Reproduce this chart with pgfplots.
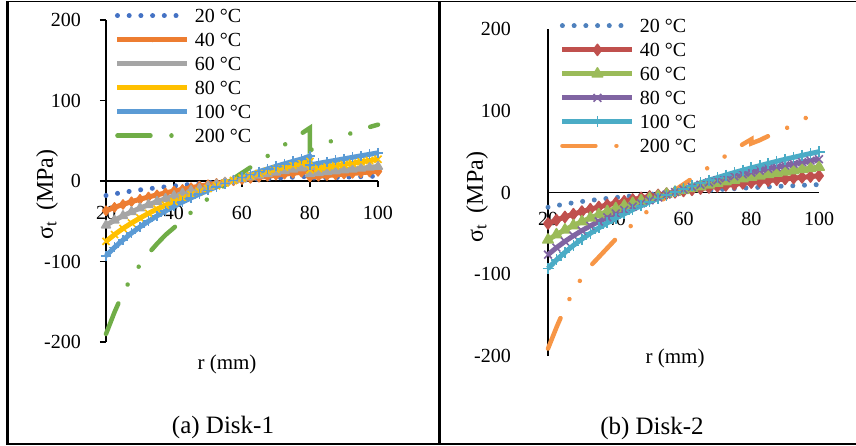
\documentclass[border=0pt]{standalone}
\usepackage{fontspec}
\setmainfont{Liberation Serif}
\usepackage{pgfplots}
\usepackage{pgfplotstable}
\pgfplotsset{compat=1.18}

% Office 2013 palette (Disk-1)
\definecolor{aBlue}{HTML}{4472C4}
\definecolor{aOrange}{HTML}{ED7D31}
\definecolor{aGray}{HTML}{A5A5A5}
\definecolor{aGold}{HTML}{FFC000}
\definecolor{aSky}{HTML}{5B9BD5}
\definecolor{aGreen}{HTML}{70AD47}
% Office 2007 palette (Disk-2)
\definecolor{bBlue}{HTML}{4F81BD}
\definecolor{bRed}{HTML}{C0504D}
\definecolor{bGreen}{HTML}{9BBB59}
\definecolor{bPurple}{HTML}{8064A2}
\definecolor{bAqua}{HTML}{4BACC6}
\definecolor{bOrange}{HTML}{F79646}

% r (mm) and sigma_t (MPa), Disk-1 (step at r = 80)
\pgfplotstableread{
r t20 t40 t60 t80 t100 t200
20 -18.0 -37.0 -55.0 -75.0 -93.0 -190
22.5 -16.0 -32.8 -48.8 -66.6 -82.5 -163
25 -14.2 -29.1 -43.3 -59.0 -73.2 -139
27.5 -12.5 -25.7 -38.3 -52.2 -64.7 -120
30 -11.0 -22.7 -33.7 -46.0 -57.0 -104
32.5 -9.7 -19.8 -29.5 -40.2 -49.9 -90
35 -8.4 -17.2 -25.6 -34.9 -43.3 -78
37.5 -7.2 -14.8 -22.0 -30.0 -37.2 -67
40 -6.1 -12.5 -18.6 -25.4 -31.5 -58
42.5 -5.1 -10.4 -15.4 -21.0 -26.1 -49
45 -4.1 -8.3 -12.4 -16.9 -21.0 -39
47.5 -3.1 -6.4 -9.6 -13.1 -16.2 -30
50 -2.3 -4.6 -6.9 -9.4 -11.6 -22
52.5 -1.4 -2.9 -4.3 -5.9 -7.3 -13
55 -0.6 -1.3 -1.9 -2.6 -3.2 -5
57.5 0.1 0.3 0.5 0.6 0.8 3
60 0.9 1.8 2.7 3.7 4.5 10
62.5 1.6 3.3 4.8 6.6 8.2 17
65 2.3 4.6 6.9 9.4 11.7 24
67.5 2.9 6.0 8.9 12.1 15.0 31
70 3.5 7.3 10.8 14.7 18.2 38
72.5 4.1 8.5 12.6 17.2 21.4 45
75 4.7 9.7 14.4 19.6 24.4 52
77.5 5.3 10.8 16.1 22.0 27.3 59
80 5.8 12.0 17.8 24.3 31.0 66
80 3.5 5.0 9.0 14.0 20.0 38
82.5 3.8 5.9 10.1 15.6 21.9 43
85 4.1 6.8 11.3 17.3 23.8 47
87.5 4.4 7.7 12.4 18.9 25.6 52
90 4.7 8.6 13.5 20.5 27.5 56
92.5 5.1 9.4 14.6 22.1 29.4 60
95 5.4 10.3 15.8 23.8 31.3 63
97.5 5.7 11.2 16.9 25.4 33.1 67
100 6.0 12.0 18.0 27.0 35.0 70
}\diskA

% Disk-2
\pgfplotstableread{
r t20 t40 t60 t80 t100 t200
20 -18.0 -38.0 -58.0 -76.0 -93.0 -191
22.5 -16.0 -33.7 -51.5 -67.5 -82.5 -165
25 -14.2 -29.9 -45.7 -59.8 -73.2 -141
27.5 -12.5 -26.5 -40.4 -52.9 -64.7 -121
30 -11.0 -23.3 -35.6 -46.6 -57.0 -104
32.5 -9.7 -20.4 -31.1 -40.8 -49.9 -90
35 -8.4 -17.7 -27.0 -35.4 -43.3 -79
37.5 -7.2 -15.2 -23.2 -30.4 -37.2 -68
40 -6.1 -12.9 -19.6 -25.7 -31.5 -57
42.5 -5.1 -10.7 -16.3 -21.3 -26.1 -48
45 -4.1 -8.6 -13.1 -17.2 -21.0 -39
47.5 -3.1 -6.6 -10.1 -13.2 -16.2 -29
50 -2.3 -4.8 -7.3 -9.5 -11.6 -21
52.5 -1.4 -3.0 -4.6 -6.0 -7.3 -13
55 -0.6 -1.3 -2.0 -2.6 -3.2 -5
57.5 0.1 0.3 0.5 0.6 0.8 3
60 0.9 1.9 2.8 3.7 4.5 10
62.5 1.6 3.3 5.1 6.7 8.2 17
65 2.3 4.8 7.3 9.5 11.7 24
67.5 2.9 6.1 9.4 12.3 15.0 31
70 3.5 7.5 11.4 14.9 18.2 38
72.5 4.1 8.7 13.3 17.5 21.4 45
75 4.7 10.0 15.2 19.9 24.4 52
77.5 5.3 11.2 17.0 22.3 27.3 59
80 5.8 12.3 18.8 24.6 30.1 65
80 5.8 12.3 18.8 24.6 30.1 60
82.5 6.4 13.4 20.5 26.8 32.8 64
85 6.9 14.5 22.1 29.0 35.5 69
87.5 7.4 15.6 23.7 31.1 38.1 73
90 7.9 16.6 25.3 33.2 40.6 78
92.5 8.3 17.6 26.8 35.1 43.0 83
95 8.8 18.5 28.3 37.1 45.4 89
97.5 9.2 19.5 29.7 39.0 47.7 94
100 9.7 20.4 31.1 40.8 49.9 99
}\diskB

\pgfplotsset{
  disk/.style={
    scale only axis, clip=false,
    xmin=20, xmax=100, ymin=-200, ymax=200,
    xtick={20,40,60,80,100}, ytick={-200,-100,0,100,200},
    axis x line*=middle, axis y line*=left,
    hide obscured x ticks=false, hide obscured y ticks=false,
    axis line style={line width=1.6bp, black},
    /pgf/number format/assume math mode=true,
    tick label style={font=\fontsize{20bp}{24bp}\selectfont, inner sep=0bp},
    xticklabel style={anchor=center, yshift=-26bp},
    yticklabel style={anchor=east, xshift=-19bp},
    xlabel={r (mm)},
    ylabel={σ\textsubscript{t}\hspace{0.45em}(MPa)},
    xlabel style={font=\fontsize{21bp}{25bp}\selectfont, anchor=center},
    ylabel style={font=\fontsize{24bp}{28bp}\selectfont, anchor=center},
    legend cell align=left,
    legend style={draw=none, fill=none, inner sep=0bp, outer sep=0bp,
      font=\fontsize{20bp}{24bp}\selectfont, row sep=10bp, anchor=north west,
      nodes={inner sep=0bp, text height=14bp, text depth=0bp},
      /tikz/every odd column/.append style={column sep=5bp}},
  },
  ser/.style={line width=5bp, line join=round, mark options={solid, line width=1.6bp}},
  dots/.style={line width=5bp, line cap=round, dash pattern=on 0.01bp off 11.7bp},
  ddd/.style={line width=4.5bp, line cap=round,
    dash pattern=on 33bp off 21bp on 0.01bp off 21bp on 0.01bp off 21bp},
}

\begin{document}
\begin{tikzpicture}
\useasboundingbox (0,0) rectangle (856bp,-446bp);

% frame of the figure table
\draw[line width=1.5bp] (7bp,-1.5bp) -- (856bp,-1.5bp);
\draw[line width=2bp] (7bp,-444bp) -- (856bp,-444bp);
\draw[line width=2.5bp] (7.5bp,-1bp) -- (7.5bp,-444.5bp);
\draw[line width=2.5bp] (439.5bp,-1bp) -- (439.5bp,-444.5bp);

% (a) Disk-1
\begin{axis}[disk, at={(106bp,-342bp)}, anchor=south west,
    width=272bp, height=322bp,
    tick align=outside, major tick length=6bp,
    major tick style={line width=1.6bp, black},
    xlabel style={at={(axis description cs:0.445,-0.071)}},
    ylabel style={at={(axis description cs:-0.217,0.458)}},
    legend style={at={(axis description cs:0.033,1.035)}},
    legend image code/.code={\draw[mark repeat=2,mark phase=2,#1,mark size=2bp,
      mark options={line width=1bp}]
      plot coordinates {(0bp,0bp) (35bp,0bp) (70bp,0bp)};}]
\addplot[aBlue, dots] table[x=r, y=t20]{\diskA};
\addlegendentry{20 °C}
\addplot[aOrange, ser, mark=diamond*, mark size=4.5bp] table[x=r, y=t40]{\diskA};
\addlegendentry{40 °C}
\addplot[aGray, ser, mark=triangle*, mark size=5bp] table[x=r, y=t60]{\diskA};
\addlegendentry{60 °C}
\addplot[aGold, ser, mark=x, mark size=5bp] table[x=r, y=t80]{\diskA};
\addlegendentry{80 °C}
\addplot[aSky, ser, mark=+, mark size=5bp] table[x=r, y=t100]{\diskA};
\addlegendentry{100 °C}
\addplot[aGreen, ddd] table[x=r, y=t200]{\diskA};
\addlegendentry{200 °C}
\end{axis}

% (b) Disk-2
\begin{axis}[disk, at={(548bp,-356bp)}, anchor=south west,
    width=271bp, height=327bp,
    major tick length=0bp,
    yticklabel style={xshift=-18bp},
    xlabel style={at={(axis description cs:0.469,-0.006)}},
    ylabel style={at={(axis description cs:-0.262,0.486)}},
    legend style={at={(axis description cs:0.044,1.031)}},
    legend image code/.code={\draw[mark repeat=2,mark phase=2,#1]
      plot coordinates {(0bp,0bp) (35bp,0bp) (70bp,0bp)};}]
\addplot[bBlue, dots] table[x=r, y=t20]{\diskB};
\addlegendentry{20 °C}
\addplot[bRed, ser, mark=diamond*, mark size=5.5bp] table[x=r, y=t40]{\diskB};
\addlegendentry{40 °C}
\addplot[bGreen, ser, mark=triangle*, mark size=6bp] table[x=r, y=t60]{\diskB};
\addlegendentry{60 °C}
\addplot[bPurple, ser, mark=x, mark size=5.5bp] table[x=r, y=t80]{\diskB};
\addlegendentry{80 °C}
\addplot[bAqua, ser, mark=+, mark size=5.5bp] table[x=r, y=t100]{\diskB};
\addlegendentry{100 °C}
\addplot[bOrange, ddd] table[x=r, y=t200]{\diskB};
\addlegendentry{200 °C}
\end{axis}

\node[font=\fontsize{25bp}{30bp}\selectfont] at (223bp,-427bp) {(a) Disk-1};
\node[font=\fontsize{25bp}{30bp}\selectfont] at (652bp,-428bp) {(b) Disk-2};
\end{tikzpicture}
\end{document}
